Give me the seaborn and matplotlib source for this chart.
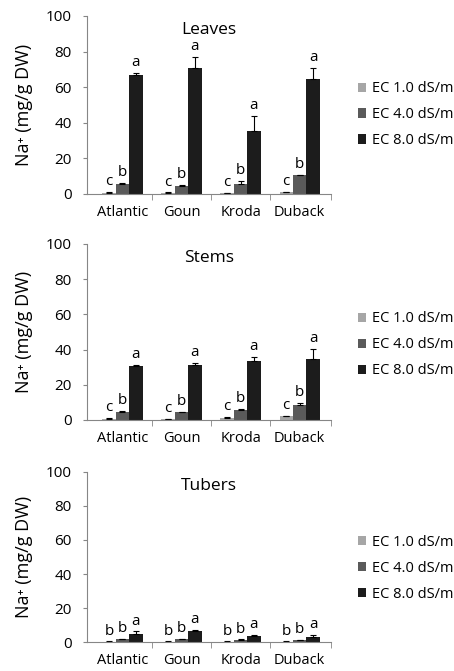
import numpy as np
import pandas as pd
import seaborn as sns
import matplotlib.pyplot as plt
from matplotlib.ticker import FixedLocator

# Data (Na+ content, mg/g DW)
cultivars = ["Atlantic", "Goun", "Kroda", "Duback"]
treatments = ["EC 1.0 dS/m", "EC 4.0 dS/m", "EC 8.0 dS/m"]

leaves_ec1 = [0.8, 0.7, 0.4, 0.9]
leaves_ec4 = [5.4, 4.6, 5.4, 10.6]
leaves_ec8 = [67.0, 71.0, 35.3, 64.4]
leaves_ec1_err = [0.2, 0.2, 0.1, 0.2]
leaves_ec4_err = [0.8, 0.7, 1.8, 0.3]
leaves_ec8_err = [1.2, 6.0, 8.7, 6.5]

stems_ec1 = [0.8, 0.4, 1.4, 2.0]
stems_ec4 = [4.7, 4.4, 5.5, 8.5]
stems_ec8 = [30.7, 31.0, 33.6, 34.4]
stems_ec1_err = [0.2, 0.1, 0.2, 0.4]
stems_ec4_err = [0.3, 0.3, 0.7, 1.2]
stems_ec8_err = [0.6, 1.4, 2.3, 5.8]

tubers_ec1 = [0.3, 0.3, 0.3, 0.3]
tubers_ec4 = [1.7, 1.6, 1.3, 1.1]
tubers_ec8 = [5.0, 6.2, 3.6, 3.1]
tubers_ec1_err = [0.05, 0.05, 0.05, 0.05]
tubers_ec4_err = [0.2, 0.2, 0.2, 0.2]
tubers_ec8_err = [1.2, 1.0, 0.4, 1.0]

leaves_letters = ["c", "b", "a"]
stems_letters = ["c", "b", "a"]
tubers_letters = ["b", "b", "a"]

colors = ["#a6a6a6", "#5a5a5a", "#1c1c1c"]

plt.rcParams["font.family"] = ["Open Sans", "DejaVu Sans"]

panels = [
    ("Leaves", [leaves_ec1, leaves_ec4, leaves_ec8],
     [leaves_ec1_err, leaves_ec4_err, leaves_ec8_err], leaves_letters),
    ("Stems", [stems_ec1, stems_ec4, stems_ec8],
     [stems_ec1_err, stems_ec4_err, stems_ec8_err], stems_letters),
    ("Tubers", [tubers_ec1, tubers_ec4, tubers_ec8],
     [tubers_ec1_err, tubers_ec4_err, tubers_ec8_err], tubers_letters),
]

# axes boxes in figure fractions [left, bottom, width, height]
boxes = [
    [0.1916, 0.7109, 0.5374, 0.2653],
    [0.1916, 0.3741, 0.5374, 0.2623],
    [0.1916, 0.0432, 0.5374, 0.2534],
]
legend_y = [0.829, 0.486, 0.153]

fig = plt.figure(figsize=(4.54, 6.71), dpi=100)

for (title, vals, errs, letters), box, ly in zip(panels, boxes, legend_y):
    ax = fig.add_axes(box)
    rows = []
    for t, v in zip(treatments, vals):
        for c, y in zip(cultivars, v):
            rows.append({"cultivar": c, "treatment": t, "value": y})
    df = pd.DataFrame(rows)

    sns.barplot(data=df, x="cultivar", y="value", hue="treatment",
                order=cultivars, hue_order=treatments, palette=colors,
                width=0.68, errorbar=None, saturation=1, ax=ax)

    # upper error bars and significance letters
    for cont, err, letter in zip(ax.containers, errs, letters):
        xs = [b.get_x() + b.get_width() / 2 for b in cont]
        hs = [b.get_height() for b in cont]
        ax.errorbar(xs, hs, yerr=[np.zeros(len(err)), err], fmt="none",
                    ecolor="black", elinewidth=0.8, capsize=2.5, capthick=0.8)
        for x, h, e in zip(xs, hs, err):
            ax.annotate(letter, (x, h + e), xytext=(0, 2),
                        textcoords="offset points", ha="center", va="bottom",
                        fontsize=11)

    ax.set_ylim(0, 100)
    ax.set_xlim(-0.6, 3.53)
    ax.set_yticks([0, 20, 40, 60, 80, 100])
    ax.set_xlabel("")
    ax.set_ylabel("Na⁺ (mg/g DW)", fontsize=13, labelpad=9)
    ax.tick_params(axis="y", labelsize=11, length=3, color="#868686", pad=8)
    ax.tick_params(axis="x", which="major", labelsize=10.5, length=0, pad=8)
    ax.xaxis.set_minor_locator(FixedLocator([0.5, 1.5, 2.5, 3.53]))
    ax.tick_params(axis="x", which="minor", length=4, color="#868686")
    for s in ["top", "right"]:
        ax.spines[s].set_visible(False)
    for s in ["left", "bottom"]:
        ax.spines[s].set_color("#868686")
        ax.spines[s].set_linewidth(0.8)

    ax.text(0.5, 0.92, title, transform=ax.transAxes, ha="center",
            va="center", fontsize=12.5)

    handles, labels = ax.get_legend_handles_labels()
    ax.legend(handles, labels, loc="center left", bbox_to_anchor=(0.775, ly),
              bbox_transform=fig.transFigure, frameon=False, fontsize=10.5,
              handlelength=0.6, handleheight=0.6, handletextpad=0.4,
              labelspacing=0.75, borderaxespad=0)

fig.savefig("out.png", dpi=100)
